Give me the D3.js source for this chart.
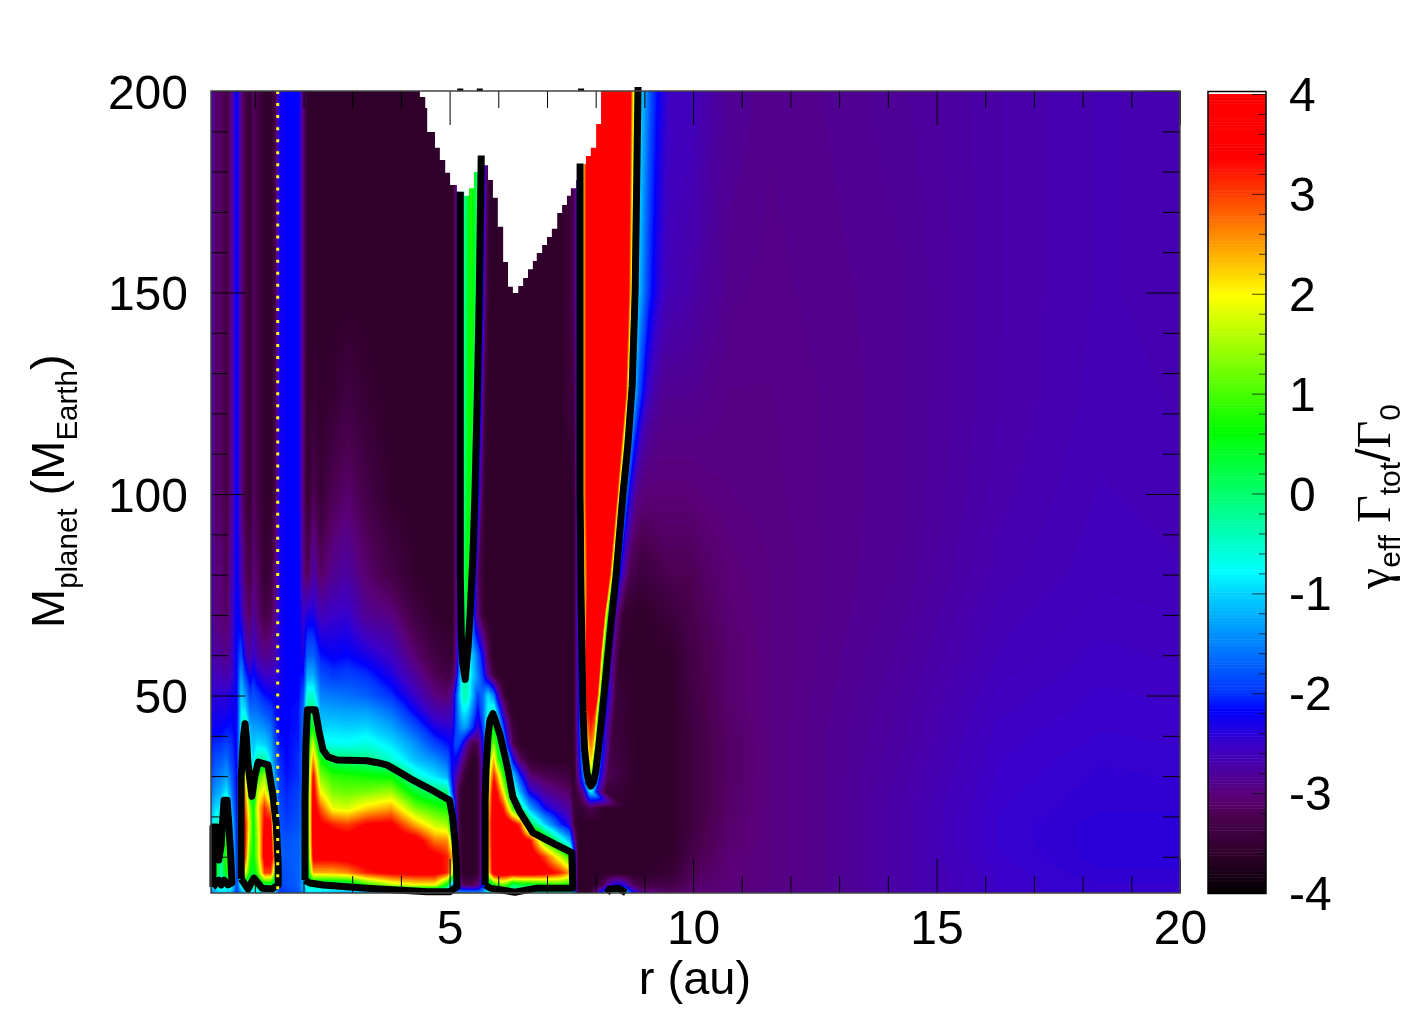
<!DOCTYPE html>
<html><head><meta charset="utf-8">
<script src="https://cdn.jsdelivr.net/npm/d3@7/dist/d3.min.js"></script>
<style>
html,body{margin:0;padding:0;background:#fff;width:1406px;height:1015px;overflow:hidden}
#c{position:absolute;left:211px;top:91px}
svg{position:absolute;left:0;top:0}
text{font-family:"Liberation Sans",Arial,sans-serif;fill:#000}
</style></head><body>
<canvas id="c" width="969" height="802"></canvas>
<svg id="s" width="1406" height="1015"></svg>
<script>
// ---------- DATA ----------
const massRows = [1,3,6,10,14,18,22,26,30,34,38,42,46,50,55,60,70,80,100,125,150,200];

// inner disc columns (au)
const rInner = [0.1,0.2,0.3,0.42,0.52,0.63,0.72,0.8,0.9,0.97,1.05,1.2,1.33,1.42,1.5,1.65,1.9,2.0,2.08];
const vInner = [
[-1.6,-1.3,-1.0,-1.1,-1.2,-2.0,-1.4,-1.0,-1.0,-0.9,-0.9,-0.9,-0.8,-1.0,-2.0,-1.9,-1.8,-1.3,-0.9],
[-1.2,-0.4,-0.4,-0.4,-0.6,-1.9,-0.6,-0.2,-0.2,-0.2,-0.2,0.2,0.2,-0.4,-1.9,-1.8,-1.7,-1.2,-0.5],
[-1.0,0.6,-0.3,0.7,-0.3,-2.0,-0.3,2.0,0.6,0.4,0.9,3.0,3.0,1.0,-1.8,-1.8,-1.7,-1.2,0.2],
[-1.0,0.8,-0.3,1.0,-0.4,-2.0,0.0,3.2,1.0,0.6,1.4,3.7,3.7,2.5,-1.7,-1.75,-1.7,-1.3,0.3],
[-1.1,0.6,-0.4,0.9,-0.6,-2.1,0.2,3.4,1.4,0.6,1.4,3.7,3.8,1.0,-1.7,-1.8,-1.7,-1.4,0.5],
[-1.2,-0.3,-0.6,0.7,-0.9,-2.1,0.3,3.4,1.7,0.6,1.6,3.5,3.6,-0.3,-1.8,-1.9,-1.8,-1.4,0.6],
[-1.3,-0.9,-0.9,0.2,-1.2,-2.15,0.2,3.0,1.4,0.6,1.9,3.2,2.5,-0.8,-1.8,-2.0,-1.85,-1.5,0.6],
[-1.6,-1.3,-1.2,-0.8,-1.5,-2.2,0.1,2.6,0.8,-0.4,1.6,2.2,1.0,-1.1,-1.9,-2.05,-1.9,-1.5,0.6],
[-1.8,-1.6,-1.5,-1.3,-1.7,-2.2,-0.3,2.0,0.3,-0.7,0.8,1.5,-0.5,-1.4,-1.95,-2.1,-2.0,-1.6,0.6],
[-2.0,-1.8,-1.75,-1.6,-1.9,-2.2,-0.6,1.2,-0.4,-0.9,-0.3,-0.2,-1.0,-1.6,-2.0,-2.15,-2.0,-1.6,0.6],
[-2.1,-2.0,-2.0,-1.9,-2.0,-2.2,-0.7,0.6,-0.9,-1.1,-0.9,-1.0,-1.3,-1.8,-2.1,-2.15,-2.05,-1.6,0.5],
[-2.2,-2.2,-2.2,-2.1,-2.1,-2.25,-0.7,0.1,-1.2,-1.3,-1.3,-1.4,-1.6,-2.0,-2.15,-2.15,-2.1,-1.6,0.3],
[-2.3,-2.3,-2.3,-2.3,-2.2,-2.25,-0.8,-0.8,-1.6,-1.6,-1.6,-1.8,-1.9,-2.1,-2.2,-2.15,-2.1,-1.6,-0.1],
[-2.4,-2.4,-2.4,-2.4,-2.3,-2.2,-1.0,-1.3,-1.9,-1.8,-1.9,-2.1,-2.2,-2.2,-2.25,-2.15,-2.15,-1.8,-0.5],
[-2.5,-2.6,-2.6,-2.7,-2.5,-2.2,-1.3,-1.9,-2.3,-2.1,-2.3,-2.5,-2.5,-2.5,-2.3,-2.15,-2.15,-2.1,-1.2],
[-2.5,-2.8,-2.8,-2.9,-2.6,-2.15,-1.8,-2.4,-2.8,-2.4,-2.7,-2.9,-2.8,-2.7,-2.3,-2.15,-2.15,-2.3,-1.7],
[-2.6,-3.0,-3.0,-3.1,-2.7,-2.1,-2.4,-2.9,-3.1,-2.8,-3.0,-3.3,-3.2,-2.9,-2.3,-2.15,-2.15,-2.5,-2.3],
[-2.6,-3.0,-3.0,-3.2,-2.7,-2.15,-2.6,-3.1,-3.3,-3.0,-3.1,-3.5,-3.4,-3.0,-2.3,-2.15,-2.15,-2.9,-3.2],
[-2.6,-3.1,-3.1,-3.3,-2.9,-2.1,-2.9,-3.3,-3.5,-3.1,-3.3,-3.55,-3.55,-3.3,-2.3,-2.15,-2.15,-3.0,-3.55],
[-2.6,-3.1,-3.1,-3.3,-2.9,-2.1,-2.9,-3.3,-3.5,-3.1,-3.3,-3.55,-3.55,-3.3,-2.3,-2.15,-2.15,-3.0,-3.55],
[-2.6,-3.1,-3.1,-3.3,-2.9,-2.1,-2.9,-3.3,-3.5,-3.1,-3.3,-3.55,-3.55,-3.3,-2.3,-2.15,-2.15,-3.0,-3.55],
[-2.6,-3.1,-3.1,-3.3,-2.9,-2.1,-2.9,-3.3,-3.5,-3.1,-3.3,-3.55,-3.55,-3.3,-2.3,-2.15,-2.15,-3.0,-3.55]
];

// plateau columns (au)
const rPlateau = [2.2,2.35,2.6,2.9,3.3,3.8,4.3,4.7,4.95];
const vPlateau = [
[-1.0,-1.0,-1.2,-1.3,-1.4,-1.4,-1.5,-1.5,-1.5],
[-0.3,-0.3,-0.2,-0.2,0.8,1.6,2.0,2.0,0.5],
[2.4,2.4,2.4,2.6,3.2,3.5,3.6,3.6,3.2],
[3.6,3.6,3.6,3.7,3.8,3.8,3.8,3.6,3.2],
[3.8,3.8,3.8,3.7,3.9,3.9,3.7,2.7,2.6],
[3.8,3.5,3.2,3.0,3.4,3.5,2.4,1.7,1.5],
[3.8,2.9,1.9,1.8,2.2,2.5,1.3,0.9,0.7],
[3.7,2.0,1.3,1.2,1.3,1.5,0.4,0.0,0.0],
[3.4,1.3,0.9,0.8,0.7,0.6,-0.5,-0.9,-1.2],
[2.6,0.7,0.1,0.0,-0.1,-0.5,-1.1,-1.4,-1.7],
[1.8,-0.6,-0.7,-0.7,-0.6,-0.9,-1.4,-1.9,-2.1],
[0.6,-1.0,-0.95,-1.0,-0.95,-1.25,-1.8,-2.3,-2.4],
[0.0,-1.2,-1.25,-1.3,-1.3,-1.6,-2.2,-2.65,-2.7],
[-0.5,-1.5,-1.55,-1.6,-1.7,-2.0,-2.5,-2.95,-3.05],
[-1.2,-1.8,-1.95,-1.9,-2.0,-2.3,-2.8,-3.2,-3.3],
[-1.7,-2.1,-2.2,-2.15,-2.3,-2.55,-3.05,-3.35,-3.45],
[-2.3,-2.6,-2.5,-2.45,-2.85,-2.95,-3.35,-3.55,-3.6],
[-2.7,-3.1,-2.85,-2.75,-3.05,-3.3,-3.55,-3.6,-3.6],
[-3.2,-3.45,-3.2,-3.05,-3.3,-3.55,-3.6,-3.6,-3.6],
[-3.5,-3.55,-3.5,-3.35,-3.5,-3.6,-3.6,-3.6,-3.6],
[-3.6,-3.6,-3.6,-3.6,-3.6,-3.6,-3.6,-3.6,-3.6],
[-3.6,-3.6,-3.6,-3.6,-3.6,-3.6,-3.6,-3.6,-3.6]
];

// gap columns: 4 fixed, 6 that follow the narrow strip, 11 fixed (au)
const rGapLeft = [5.05,5.13,5.19,5.25];
const rGapMoving = [
[5.30,5.38,5.48,5.58,5.69,5.79],[5.30,5.38,5.48,5.58,5.69,5.79],[5.30,5.38,5.48,5.58,5.69,5.79],
[5.30,5.38,5.48,5.58,5.69,5.79],[5.30,5.38,5.48,5.58,5.69,5.79],[5.30,5.38,5.48,5.58,5.69,5.79],
[5.30,5.38,5.48,5.58,5.69,5.79],[5.30,5.38,5.48,5.58,5.69,5.79],[5.30,5.38,5.48,5.58,5.69,5.79],
[5.30,5.38,5.48,5.58,5.69,5.79],[5.30,5.38,5.48,5.58,5.69,5.79],[5.30,5.38,5.48,5.58,5.69,5.79],
[5.30,5.38,5.48,5.58,5.69,5.79],[5.30,5.38,5.48,5.58,5.69,5.79],
[5.30,5.32,5.38,5.46,5.69,5.79],
[5.31,5.36,5.42,5.50,5.69,5.79],
[5.34,5.42,5.48,5.56,5.69,5.81],
[5.36,5.46,5.52,5.60,5.73,5.85],
[5.39,5.52,5.58,5.67,5.75,5.85],
[5.42,5.57,5.63,5.71,5.79,5.87],
[5.44,5.61,5.67,5.75,5.83,5.89],
[5.44,5.65,5.71,5.79,5.85,5.89]
];
const rGapRight = [5.91,5.99,6.10,6.20,6.30,6.45,6.65,6.96,7.27,7.47,7.55];
const vGap = [
[-1.5,-1.4,-1.3,-1.3,-1.3,-1.3,-1.3,-1.4,-1.2,-0.9,-0.7,-0.6,-0.6,-0.6,-0.6,-0.6,-0.6,-0.6,-0.6,-0.6,-1.0],
[-1.2,-2.4,-2.8,-3.0,-3.2,-3.2,-3.2,-3.0,-2.2,-0.3,0.6,1.0,1.2,0.8,0.0,0.3,0.3,0.6,0.8,0.6,-1.4],
[2.0,-0.5,-3.0,-3.5,-3.6,-3.6,-3.6,-3.5,-2.5,2.0,3.8,3.9,3.9,3.9,3.9,3.9,3.9,3.7,3.2,2.5,-1.5],
[2.5,-0.9,-3.2,-3.5,-3.6,-3.6,-3.6,-3.5,-2.5,2.2,3.9,3.9,3.9,3.9,3.9,3.9,3.9,3.0,1.7,0.8,-1.5],
[1.5,-1.2,-3.2,-3.5,-3.6,-3.6,-3.6,-3.5,-2.5,2.3,3.9,3.9,3.9,3.9,3.9,3.9,3.4,1.0,-0.4,-1.2,-2.5],
[0.3,-1.8,-3.3,-3.55,-3.6,-3.6,-3.6,-3.5,-2.5,2.4,3.9,3.9,3.9,3.9,3.7,3.0,0.3,-1.0,-2.0,-2.4,-3.3],
[-0.3,-2.4,-3.3,-3.55,-3.6,-3.6,-3.6,-3.5,-2.5,2.2,3.8,3.7,3.3,2.2,0.9,-0.1,-1.2,-2.2,-2.6,-2.8,-3.4],
[-1.8,-2.8,-3.3,-3.5,-3.6,-3.6,-3.6,-3.5,-2.5,1.9,3.8,3.2,2.1,0.8,-0.2,-1.2,-2.3,-2.8,-3.0,-3.1,-3.5],
[-2.2,-2.6,-2.9,-3.2,-3.4,-3.6,-3.6,-3.5,-2.4,1.5,3.2,2.4,1.0,-0.1,-1.0,-2.0,-3.0,-3.2,-3.3,-3.4,-3.6],
[-2.2,-2.2,-2.4,-2.8,-3.0,-3.4,-3.6,-3.5,-2.3,1.0,2.4,1.0,0.1,-1.0,-2.2,-3.1,-3.5,-3.6,-3.6,-3.6,-3.6],
[-2.2,-1.8,-1.9,-2.1,-2.4,-2.9,-3.3,-3.2,-2.2,0.0,1.4,0.3,-1.0,-2.3,-3.2,-3.6,-3.6,-3.6,-3.6,-3.6,-3.6],
[-2.4,-1.9,-1.6,-1.4,-1.3,-1.5,-2.0,-2.5,-1.9,-0.1,0.5,-0.5,-1.8,-2.8,-3.4,-3.6,-3.6,-3.6,-3.6,-3.6,-3.6],
[-2.6,-1.9,-1.4,-1.0,-0.8,-1.0,-1.6,-2.2,-1.6,-0.7,-0.3,-1.4,-2.6,-3.3,-3.6,-3.6,-3.6,-3.6,-3.6,-3.6,-3.6],
[-2.8,-1.9,-1.2,-0.6,-0.3,-0.5,-1.2,-1.9,-1.6,-0.9,-1.5,-2.5,-3.3,-3.6,-3.6,-3.6,-3.6,-3.6,-3.6,-3.6,-3.6],
[-3.3,-2.6,-1.6,-0.7,-0.3,-0.3,-0.5,-0.9,-2.0,-2.8,-3.4,-3.6,-3.6,-3.6,-3.6,-3.6,-3.6,-3.6,-3.6,-3.6,-3.6],
[-3.5,-2.9,-1.9,-0.5,0.0,-0.4,-0.9,-1.2,-2.3,-3.2,-3.6,-3.6,-3.6,-3.6,-3.6,-3.6,-3.6,-3.6,-3.6,-3.6,-3.6],
[-3.6,-3.0,-2.0,-0.5,0.4,-0.3,-1.7,-2.8,-3.5,-3.6,-3.6,-3.6,-3.6,-3.6,-3.6,-3.6,-3.6,-3.6,-3.6,-3.6,-3.6],
[-3.6,-3.0,-2.0,-0.5,0.7,-0.3,-2.0,-3.2,-3.6,-3.6,-3.6,-3.6,-3.6,-3.6,-3.6,-3.6,-3.6,-3.6,-3.6,-3.6,-3.6],
[-3.6,-3.0,-2.0,-0.5,0.7,-0.3,-2.0,-3.2,-3.6,-3.6,-3.6,-3.6,-3.6,-3.6,-3.6,-3.6,-3.6,-3.6,-3.6,-3.6,-3.6],
[-3.6,-3.0,-2.0,-0.5,0.8,-0.3,-2.0,-3.2,-3.6,-3.6,-3.6,-3.6,-3.6,-3.6,-3.6,-3.6,-3.6,-3.6,-3.6,-3.4,-3.4],
[-3.6,-3.0,-2.0,-0.5,0.8,-0.3,-2.0,-3.2,-3.6,-3.6,-3.6,-3.6,-3.6,-3.6,-3.6,-3.6,-3.6,-3.6,-3.6,-3.4,-3.2],
[-3.6,-3.0,-2.0,-0.5,0.9,-0.3,-2.0,-3.2,-3.6,-3.6,-3.6,-3.6,-3.6,-3.6,-3.6,-3.6,-3.6,-3.6,-3.6,-3.4,-3.2]
];

// wedge columns, following the wedge edges row by row (au)
const rWedge = [
[7.64,7.72,7.78,7.84,7.90,8.03,8.15,8.25,8.40,8.58,8.75,8.91,9.57],
[7.64,7.72,7.78,7.84,7.90,8.03,8.15,8.25,8.40,8.58,8.75,8.91,9.57],
[7.64,7.72,7.78,7.84,7.90,8.03,8.15,8.25,8.40,8.58,8.75,8.91,9.57],
[7.64,7.72,7.78,7.84,7.90,8.03,8.15,8.25,8.40,8.58,8.75,8.91,9.57],
[7.64,7.72,7.78,7.84,7.90,8.03,8.15,8.25,8.40,8.58,8.75,8.91,9.57],
[7.64,7.72,7.78,7.84,7.90,8.03,8.15,8.25,8.40,8.58,8.75,8.91,9.57],
[7.64,7.72,7.78,7.84,7.90,8.03,8.15,8.25,8.40,8.58,8.75,8.91,9.57],
[7.64,7.72,7.78,7.82,7.86,7.88,7.90,7.93,7.97,8.05,8.21,8.91,9.57],
[7.64,7.85,7.87,7.89,7.90,7.91,7.92,7.95,8.01,8.09,8.25,8.91,9.57],
[7.64,7.81,7.84,7.87,7.90,7.93,7.95,7.99,8.05,8.13,8.29,8.91,9.57],
[7.64,7.78,7.82,7.86,7.90,7.95,7.99,8.03,8.09,8.17,8.33,8.91,9.57],
[7.64,7.76,7.80,7.84,7.90,7.97,8.01,8.06,8.12,8.19,8.36,8.91,9.57],
[7.64,7.75,7.78,7.82,7.92,7.99,8.03,8.09,8.15,8.23,8.40,8.91,9.57],
[7.64,7.74,7.78,7.82,7.93,8.03,8.07,8.13,8.19,8.27,8.42,8.91,9.57],
[7.64,7.73,7.78,7.82,7.95,8.06,8.10,8.17,8.23,8.31,8.46,8.91,9.57],
[7.64,7.72,7.77,7.82,7.97,8.09,8.13,8.21,8.27,8.36,8.50,8.91,9.57],
[7.64,7.72,7.78,7.84,8.01,8.17,8.21,8.29,8.36,8.44,8.58,8.91,9.57],
[7.64,7.72,7.78,7.86,8.05,8.27,8.33,8.41,8.47,8.55,8.69,8.91,9.57],
[7.64,7.70,7.76,7.84,8.13,8.42,8.48,8.56,8.62,8.70,8.85,9.01,9.22],
[7.64,7.70,7.76,7.84,8.21,8.60,8.66,8.75,8.81,8.89,9.03,9.20,9.40],
[7.64,7.70,7.76,7.84,8.25,8.66,8.73,8.81,8.87,8.95,9.10,9.26,9.46],
[7.64,7.70,7.76,7.84,8.29,8.70,8.77,8.87,8.93,9.01,9.16,9.32,9.53]
];
const vWedge = [
[-3.6,-3.6,-3.6,-3.6,-3.4,-2.6,-1.8,-0.9,-0.3,-0.8,-2.0,-2.8,-3.1],
[-3.6,-3.6,-3.6,-3.6,-3.6,-3.5,-3.2,-2.7,-2.2,-2.4,-3.1,-3.3,-3.3],
[-3.6,-3.6,-3.6,-3.6,-3.6,-3.6,-3.6,-3.6,-3.6,-3.6,-3.6,-3.6,-3.45],
[-3.6,-3.6,-3.6,-3.6,-3.6,-3.6,-3.6,-3.6,-3.6,-3.6,-3.6,-3.6,-3.55],
[-3.6,-3.6,-3.6,-3.6,-3.6,-3.6,-3.6,-3.6,-3.6,-3.6,-3.6,-3.6,-3.55],
[-3.6,-3.6,-3.6,-3.6,-3.6,-3.6,-3.6,-3.6,-3.6,-3.6,-3.6,-3.6,-3.55],
[-3.5,-3.45,-3.4,-3.3,-3.2,-3.4,-3.55,-3.6,-3.6,-3.6,-3.6,-3.6,-3.55],
[-3.3,-3.0,-2.5,-1.9,-1.2,-1.0,-0.9,-1.0,-1.5,-2.6,-3.4,-3.6,-3.55],
[-2.8,-0.4,0.8,1.2,1.4,1.2,0.8,-0.4,-1.0,-2.2,-3.2,-3.6,-3.55],
[-2.6,-0.4,1.4,2.0,2.2,2.0,1.4,-0.4,-1.1,-2.2,-3.3,-3.6,-3.55],
[-2.5,-0.4,1.6,2.4,2.8,2.4,1.6,-0.4,-1.2,-2.3,-3.35,-3.6,-3.55],
[-2.4,-0.4,1.8,2.8,3.2,2.8,1.8,-0.4,-1.4,-2.4,-3.4,-3.6,-3.55],
[-2.4,-0.4,2.0,3.2,3.5,3.2,2.0,-0.4,-1.5,-2.4,-3.4,-3.6,-3.55],
[-2.4,-0.4,2.0,3.5,3.8,3.5,2.0,-0.4,-1.7,-2.4,-3.4,-3.6,-3.55],
[-2.4,-0.4,2.2,3.7,3.9,3.7,2.1,-0.4,-2.0,-2.7,-3.5,-3.6,-3.55],
[-2.4,-0.4,2.2,3.8,3.9,3.8,2.1,-0.4,-2.2,-2.9,-3.55,-3.6,-3.55],
[-2.3,-0.4,2.3,3.9,3.9,3.9,2.1,-0.4,-2.2,-2.9,-3.5,-3.6,-3.4],
[-2.3,-0.4,2.4,3.9,3.9,3.9,2.1,-0.4,-1.9,-2.6,-3.2,-3.4,-3.2],
[-2.2,-0.4,2.5,3.9,3.9,3.9,2.1,-0.4,-1.5,-2.3,-2.9,-3.0,-3.0],
[-2.2,-0.4,2.5,3.9,3.9,3.9,2.1,-0.4,-1.2,-1.8,-2.4,-2.7,-2.85],
[-2.2,-0.4,2.5,3.9,3.9,3.9,2.1,-0.4,-1.0,-1.4,-2.0,-2.35,-2.6],
[-2.2,-0.4,2.5,3.9,3.9,3.9,2.1,-0.4,-1.0,-1.3,-1.9,-2.25,-2.55]
];

// outer disc columns (au)
const rOuter = [9.94,10.25,10.76,11.58,12.81,14.25,16.3,18.36,20];
const vOuter = [
[-3.0,-3.0,-2.95,-2.9,-2.85,-2.7,-2.5,-2.45,-2.45],
[-3.1,-3.05,-3.0,-2.95,-2.85,-2.7,-2.5,-2.45,-2.45],
[-3.2,-3.1,-3.0,-2.95,-2.85,-2.7,-2.5,-2.42,-2.42],
[-3.3,-3.15,-3.0,-2.95,-2.85,-2.7,-2.48,-2.4,-2.4],
[-3.35,-3.2,-3.05,-2.95,-2.85,-2.7,-2.47,-2.4,-2.4],
[-3.4,-3.22,-3.05,-2.95,-2.85,-2.7,-2.47,-2.4,-2.4],
[-3.4,-3.25,-3.08,-2.95,-2.85,-2.7,-2.48,-2.42,-2.42],
[-3.4,-3.25,-3.08,-2.95,-2.85,-2.71,-2.49,-2.43,-2.44],
[-3.4,-3.25,-3.1,-2.95,-2.85,-2.72,-2.5,-2.44,-2.45],
[-3.4,-3.25,-3.1,-2.95,-2.85,-2.73,-2.51,-2.45,-2.46],
[-3.4,-3.25,-3.1,-2.95,-2.85,-2.74,-2.52,-2.47,-2.48],
[-3.38,-3.24,-3.08,-2.95,-2.85,-2.75,-2.53,-2.48,-2.49],
[-3.36,-3.23,-3.06,-2.95,-2.86,-2.75,-2.55,-2.49,-2.5],
[-3.35,-3.22,-3.05,-2.95,-2.86,-2.76,-2.56,-2.5,-2.52],
[-3.32,-3.21,-3.05,-2.95,-2.87,-2.77,-2.58,-2.52,-2.53],
[-3.3,-3.2,-3.05,-2.95,-2.87,-2.78,-2.6,-2.53,-2.55],
[-3.25,-3.15,-3.02,-2.95,-2.88,-2.8,-2.62,-2.56,-2.57],
[-3.2,-3.1,-3.0,-2.95,-2.88,-2.82,-2.65,-2.58,-2.6],
[-3.0,-2.97,-2.95,-2.93,-2.88,-2.83,-2.68,-2.6,-2.62],
[-2.85,-2.88,-2.92,-2.92,-2.88,-2.83,-2.7,-2.62,-2.64],
[-2.7,-2.78,-2.88,-2.9,-2.87,-2.83,-2.7,-2.63,-2.65],
[-2.55,-2.68,-2.82,-2.88,-2.85,-2.8,-2.7,-2.63,-2.65]
];

// empty (white) part of the map: lower edge, falling then rising
const maskFallR = [4.39,4.50,4.54,4.70,4.80,4.91,5.01,5.15,5.30,5.40,5.50,5.58,5.69,5.79,5.89,5.99,6.10,6.20,6.30];
const maskFallM = [200,198.5,195.8,189.8,185.9,182.9,179.7,176.7,175,174,175.9,179.9,183.9,181.6,177.9,173.5,166.3,157.6,151.4];
const maskRiseR = [6.30,6.41,6.51,6.61,6.71,6.79,6.90,7.0,7.10,7.21,7.31,7.41,7.49,7.60,7.70,7.80,7.90,8.01,8.11];
const maskRiseM = [149.9,151.6,153.6,155.8,157.8,159.8,161.8,163.8,165.8,169.7,171.7,174,175.9,177.9,181.9,183.9,185.9,191.8,200.3];

// zero-level contour lines [r (au), M]
const contourA = [[.14,2.5],[.14,17.4],[.22,17.4],[.26,9.2],[.31,13],[.33,17.4],[.37,24],[.43,24],[.47,17.4],[.51,9.2],[.53,3.5],[.45,3],[.37,4.2],[.31,3],[.26,4.2],[.16,2.7],[.14,2.5]];
const contourB = [[.72,4.5],[.72,30],[.77,40],[.80,43],[.83,39],[.86,33],[.94,25],[1.0,30],[1.07,33.5],[1.27,32.8],[1.37,25.4],[1.44,18],[1.48,8],[1.48,3],[1.35,2],[1.15,2.2],[.98,4.7],[.86,2],[.72,4.5]];
const contourC = [[2.03,4.2],[2.03,24],[2.05,38],[2.08,46.5],[2.24,46.5],[2.32,41],[2.40,36.5],[2.5,34.8],[2.69,34],[3.30,33.8],[3.5,33.4],[3.71,32.8],[3.97,31],[4.25,29],[4.6,26.8],[5.0,24],[5.06,20],[5.11,14],[5.14,8],[5.15,2.5],[5.0,1.3],[4.54,1.3],[3.30,2.2],[2.40,3.0],[2.13,3.5],[2.03,4.2]];
const contourD = [[5.73,3],[5.73,24],[5.75,32],[5.79,40],[5.83,44],[5.89,45.5],[5.95,43.5],[6.04,40],[6.2,31.5],[6.30,24.8],[6.45,21],[6.71,16],[7.1,13.5],[7.51,11],[7.53,2.2],[6.79,2.2],[6.34,1.2],[5.83,2.2],[5.73,3]];
const contourE = [[7.68,182],[7.68,100],[7.70,75],[7.72,60],[7.74,46],[7.77,37],[7.82,31],[7.86,28.5],[7.90,27.5],[7.95,28.5],[8.0,31],[8.06,37],[8.13,45],[8.21,55],[8.29,65],[8.42,80],[8.56,100],[8.66,112],[8.75,127],[8.81,150],[8.84,175],[8.87,201]];
const contourF = [[5.22,175],[5.22,120],[5.22,80],[5.24,65],[5.27,58],[5.32,54],[5.38,62],[5.42,70],[5.48,85],[5.52,100],[5.57,125],[5.61,150],[5.65,184]];
const contourG = [[8.23,1],[8.29,2],[8.46,2.2],[8.62,1.1]];
const topMarksR = [5.22,5.62,7.70];

const snowLineR = 1.47;
const xMajor = [5,10,15,20];
const xMinor = [1,2,3,4,6,7,8,9,11,12,13,14,16,17,18,19];
const yMajor = [50,100,150,200];
const yMinor = [10,20,30,40,60,70,80,90,110,120,130,140,160,170,180,190];
const barMajor = [-4,-3,-2,-1,0,1,2,3,4];
const barMinor = [-3.8,-3.6,-3.4,-3.2,-2.8,-2.6,-2.4,-2.2,-1.8,-1.6,-1.4,-1.2,-0.8,-0.6,-0.4,-0.2,0.2,0.4,0.6,0.8,1.2,1.4,1.6,1.8,2.2,2.4,2.6,2.8,3.2,3.4,3.6,3.8];
const paletteValues = [-4,-3.6,-3.2,-3,-2.5,-2.15,-2,-1,-0.76,0,0.64,2,2.5,3,3.37,4];
const paletteColours = ["#000000","#2e0029","#4c0052","#5a0078","#3c00c8","#0000ff","#0030ff","#00d0ff","#00ffff","#00ff70","#00ff00","#ffff00","#ffa000","#ff4000","#ff0000","#ff0000"];

// ---------- SCALES ----------
const x = d3.scaleLinear().domain([0.1,20]).range([211,1180]);
const y = d3.scaleLinear().domain([1,200]).range([893,91]);
const colour = d3.scaleLinear().domain(paletteValues).range(paletteColours).interpolate(d3.interpolateRgb).clamp(true);
const lut = d3.range(256).map(i => { const c = d3.rgb(colour(-4 + 8*i/255)); return [c.r,c.g,c.b]; });

// ---------- FIELD ----------
const nodeR = massRows.map((_,i) => [...rInner,...rPlateau,...rGapLeft,...rGapMoving[i],...rGapRight,...rWedge[i],...rOuter]);
const nodeV = massRows.map((_,i) => [...vInner[i],...vPlateau[i],...vGap[i],...vWedge[i],...vOuter[i]]);
const cv = document.getElementById("c"), ctx = cv.getContext("2d");
const img = ctx.createImageData(cv.width,cv.height);
for (let py=0; py<cv.height; py++) {
  const M = Math.max(1,Math.min(200,y.invert(91+py+0.5)));
  let k = Math.min(massRows.length-2, d3.bisectRight(massRows,M)-1);
  const t = (M-massRows[k])/(massRows[k+1]-massRows[k]);
  const rs = nodeR[k].map((a,i)=>a+(nodeR[k+1][i]-a)*t);
  const vs = nodeV[k].map((a,i)=>a+(nodeV[k+1][i]-a)*t);
  let j = 0;
  for (let px=0; px<cv.width; px++) {
    const r = x.invert(211+px+0.5);
    while (j<rs.length-2 && r>rs[j+1]) j++;
    const u = Math.max(0,Math.min(1,(r-rs[j])/(rs[j+1]-rs[j])));
    const v = vs[j]+(vs[j+1]-vs[j])*u;
    const c = lut[Math.max(0,Math.min(255,Math.round((v+4)/8*255)))];
    const o = (py*cv.width+px)*4;
    img.data[o]=c[0]; img.data[o+1]=c[1]; img.data[o+2]=c[2]; img.data[o+3]=255;
  }
}
ctx.putImageData(img,0,0);

// ---------- OVERLAYS ----------
const svg = d3.select("#s");
const maskFall = d3.line().x(i=>x(maskFallR[i])).y(i=>y(maskFallM[i])).curve(d3.curveStepBefore);
const maskRise = d3.line().x(i=>x(maskRiseR[i])).y(i=>y(maskRiseM[i])).curve(d3.curveStepAfter);
svg.append("path")
  .attr("d",maskFall(d3.range(maskFallR.length))+maskRise(d3.range(maskRiseR.length)).replace("M","L")+"L"+x(8.11)+","+(y(200)-1)+"L"+x(4.39)+","+(y(200)-1)+"Z")
  .attr("fill","#fff");

const cLine = d3.line().x(d=>x(d[0])).y(d=>y(d[1]));
svg.append("g").selectAll("path").data([contourA,contourB,contourC,contourD,contourE,contourF,contourG]).join("path")
  .attr("d",cLine).attr("fill","none").attr("stroke","#000").attr("stroke-width",7).attr("stroke-linejoin","round");
svg.append("g").selectAll("line").data(topMarksR).join("line")
  .attr("x1",d=>x(d)).attr("x2",d=>x(d)).attr("y1",y(200)-2.5).attr("y2",y(200)).attr("stroke","#000").attr("stroke-width",6);

svg.append("line").attr("x1",x(snowLineR)).attr("x2",x(snowLineR)).attr("y1",y(200)).attr("y2",y(1))
  .attr("stroke","#ffff00").attr("stroke-width",3).attr("stroke-dasharray","3 9.05");

function ticks(g,axis,size){ g.call(axis.tickSize(size).tickPadding(0));
  g.select(".domain").remove(); g.selectAll("line").attr("stroke","#000").attr("stroke-width",1); return g; }

const txt = g => g.selectAll("text").style("font-size","48px").style("font-family",'"Liberation Sans"').attr("fill","#000");

// x axis, bottom and top (inward ticks)
let g = svg.append("g").attr("transform","translate(0,893)");
ticks(g,d3.axisBottom(x).tickValues(xMajor).tickFormat(d3.format("d")),-34);
txt(g); g.selectAll("text").attr("y",0).attr("dy",0).attr("transform","translate(0,51)");
g = svg.append("g").attr("transform","translate(0,893)");
ticks(g,d3.axisBottom(x).tickValues(xMinor).tickFormat(""),-17);
g = svg.append("g").attr("transform","translate(0,91)");
ticks(g,d3.axisTop(x).tickValues(xMajor).tickFormat(""),-34);
g = svg.append("g").attr("transform","translate(0,91)");
ticks(g,d3.axisTop(x).tickValues(xMinor).tickFormat(""),-17);

// y axis, left and right
g = svg.append("g").attr("transform","translate(211,0)");
ticks(g,d3.axisLeft(y).tickValues(yMajor).tickFormat(d3.format("d")),-34);
txt(g); g.selectAll("text").attr("x",-23).attr("dy","0.355em");
g = svg.append("g").attr("transform","translate(211,0)");
ticks(g,d3.axisLeft(y).tickValues(yMinor).tickFormat(""),-17);
g = svg.append("g").attr("transform","translate(1180,0)");
ticks(g,d3.axisRight(y).tickValues(yMajor).tickFormat(""),-34);
g = svg.append("g").attr("transform","translate(1180,0)");
ticks(g,d3.axisRight(y).tickValues(yMinor).tickFormat(""),-17);

svg.append("rect").attr("x",211).attr("y",91).attr("width",969).attr("height",802)
  .attr("fill","none").attr("stroke","#444").attr("stroke-width",1.5);

// axis titles
svg.append("text").attr("x",695).attr("y",994).attr("text-anchor","middle").style("font-size","47px").text("r (au)");
const yt = svg.append("text").attr("transform","translate(64,628) rotate(-90)").style("font-size","47px");
yt.append("tspan").text("M");
yt.append("tspan").attr("dy",13).style("font-size","29.5px").text("planet");
yt.append("tspan").attr("dy",-13).text(" (M");
yt.append("tspan").attr("dy",13).style("font-size","29.5px").text("Earth");
yt.append("tspan").attr("dy",-13).text(")");

// colour bar
const cb = d3.scaleLinear().domain([-4,4]).range([893,94]);
const steps = d3.range(256).map(i=>-4+8*i/255);
svg.append("g").selectAll("rect").data(steps).join("rect")
  .attr("x",1208).attr("width",58)
  .attr("y",d=>cb(d))
  .attr("height",d=>Math.min(3.6,893-cb(d)))
  .attr("fill",d=>colour(d));
svg.append("rect").attr("x",1208).attr("y",91.5).attr("width",58).attr("height",802).attr("fill","none").attr("stroke","#000").attr("stroke-width",1.5);
g = svg.append("g").attr("transform","translate(1266,0)");
ticks(g,d3.axisRight(cb).tickValues(barMajor).tickFormat(""),-14);
g.selectAll("line").attr("stroke-opacity",.7);
g = svg.append("g").attr("transform","translate(1266,0)");
ticks(g,d3.axisRight(cb).tickValues(barMinor).tickFormat(""),-7);
g.selectAll("line").attr("stroke-opacity",.7);
svg.append("g").selectAll("text").data(barMajor).join("text")
  .attr("x",1289).attr("y",d=>cb(d)).attr("dy","0.355em").style("font-size","48px").text(d=>d);

const greek = '"Liberation Serif"';
const bt = svg.append("text").attr("transform","translate(1390,589) rotate(-90)").style("font-size","48px");
bt.append("tspan").style("font-family",greek).text("γ");
bt.append("tspan").attr("dy",10).style("font-size","30px").text("eff");
bt.append("tspan").attr("dy",-10).style("font-family",greek).text(" Γ");
bt.append("tspan").attr("dy",10).style("font-size","30px").text("tot");
bt.append("tspan").attr("dy",-10).text("/");
bt.append("tspan").style("font-family",greek).text("Γ");
bt.append("tspan").attr("dy",10).style("font-size","30px").text("0");
</script>
</body></html>
